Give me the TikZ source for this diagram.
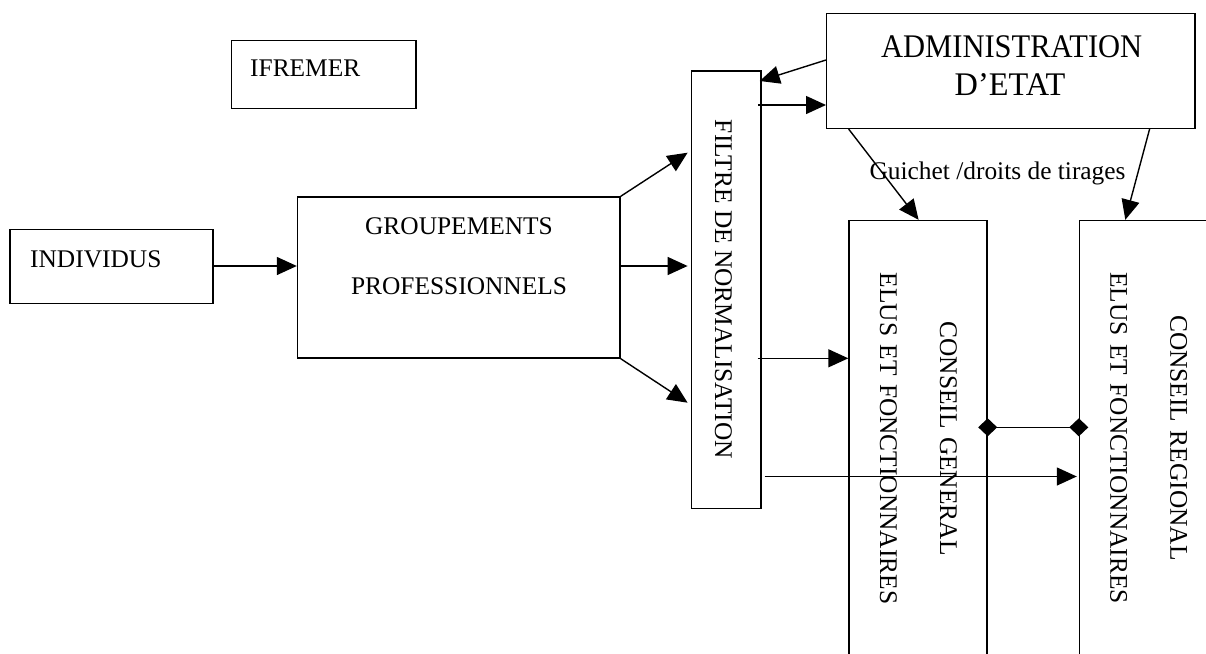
\documentclass[tikz,border=0pt]{standalone}
\usepackage{fontspec}
\usepackage{graphicx}
\setmainfont{Liberation Serif}
\usetikzlibrary{arrows.meta}
\newcommand\diagtext{\fontsize{25.4}{60}\selectfont}
\newcommand\bigtext{\fontsize{33}{38}\selectfont}
\tikzset{
  box/.style={draw, rectangle, inner sep=0pt, line width=1.4pt},
  lbl/.style={font=\diagtext, inner sep=0pt},
  biglbl/.style={font=\bigtext, inner sep=0pt, anchor=base},
  vlbl/.style={lbl, rotate=-90, anchor=base, text width=420pt, align=center},
  arr/.style={-{Triangle[length=20pt,width=18pt]}, line width=1.4pt},
  link/.style={{Diamond[length=19pt,width=18pt]}-{Diamond[length=19pt,width=18pt]},
    line width=1.4pt, shorten <=-9.5pt, shorten >=-9.5pt}
}
\begin{document}
\begin{tikzpicture}[x=1pt, y=-1pt]
\useasboundingbox (0,0) rectangle (1206,653);
\clip (0,0) rectangle (1206,653);

% boxes
\node[box, minimum width=184.3pt, minimum height=68.4pt] (ifremer) at (323.85,74.5) {};
\node[box, minimum width=203.2pt, minimum height=74pt] (individus) at (111.4,266.3) {};
\node[box, minimum width=322.5pt, minimum height=161pt] (groupements) at (458.75,277.5) {};
\node[box, minimum width=69.3pt, minimum height=437.3pt] (filtre) at (726.35,289.65) {};
\node[box, minimum width=368.3pt, minimum height=115pt] (admin) at (1010.85,70.8) {};
\node[box, minimum width=138pt, minimum height=500pt] (cg) at (918,470.5) {};
\node[box, minimum width=200pt, minimum height=500pt] (cr) at (1179.5,470.5) {};

% texts
\node[lbl, anchor=base west] (ifremer-t) at (250,76) {IFREMER};
\node[lbl, anchor=base west] (individus-t) at (30,267) {INDIVIDUS};
\node[lbl, anchor=base, text width=300pt, align=center] (groupements-t) at (459,234)
  {GROUPEMENTS\\PROFESSIONNELS};
\node[biglbl] (admin-t1) at (1011.7,57.7) {\scalebox{0.925}[1]{ADMINISTRATION}};
\node[biglbl] (admin-t2) at (1010,95.5) {\scalebox{0.98}[1]{D’ETAT}};
\node[lbl, anchor=base west] (guichet) at (869.3,179.3) {Guichet /droits de tirages};
\node[lbl, rotate=-90, anchor=base] (filtre-t) at (715,289.5) {FILTRE DE NORMALISATION};
\node[vlbl] (cg-t) at (940,438.5) {CONSEIL GENERAL\\ELUS ET FONCTIONNAIRES};
\node[vlbl] (cr-t) at (1170.3,438) {CONSEIL REGIONAL\\ELUS ET FONCTIONNAIRES};

% heights of the horizontal connectors
\coordinate (h60) at (0,60);
\coordinate (h81) at (0,81);
\coordinate (h105) at (0,105);
\coordinate (h153) at (0,152.7);
\coordinate (h266) at (0,266);
\coordinate (h358) at (0,358.3);
\coordinate (h403) at (0,402.7);
\coordinate (h427) at (0,427.3);
\coordinate (h476) at (0,476.5);

% connectors
\draw[arr] (individus.east |- h266) -- (groupements.west |- h266);
\draw[arr] (groupements.north east) -- ([xshift=-3.4pt]filtre.west |- h153);
\draw[arr] (groupements.east |- h266) -- ([xshift=-3.4pt]filtre.west |- h266);
\draw[arr] (groupements.south east) -- ([xshift=-3.4pt]filtre.west |- h403);
\draw[arr] (admin.west |- h60) -- ([xshift=-2pt]filtre.east |- h81);
\draw[arr] ([xshift=-3.7pt]filtre.east |- h105) -- (admin.west |- h105);
\draw[arr] ([xshift=22.6pt]admin.south west) -- ([xshift=0.6pt]cg.north);
\draw[arr] ([xshift=-46.1pt]admin.south east) -- ([xshift=46.5pt]cr.north west);
\draw[arr] ([xshift=-4pt]filtre.east |- h358) -- (cg.west |- h358);
\draw[arr] ([xshift=3pt]filtre.east |- h476) -- ([xshift=-2pt]cr.west |- h476);
\draw[link] (cg.east |- h427) -- (cr.west |- h427);
\end{tikzpicture}
\end{document}
